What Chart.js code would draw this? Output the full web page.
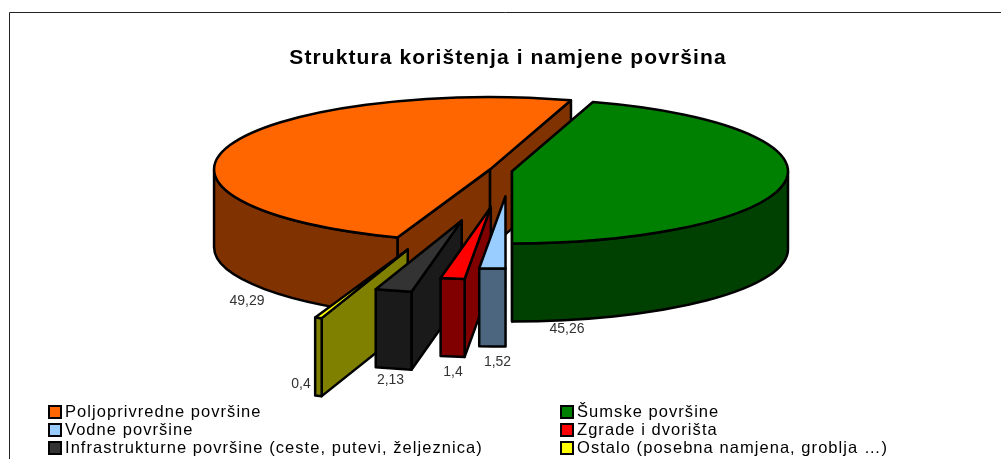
<!DOCTYPE html>
<html><head><meta charset="utf-8">
<script src="https://cdn.jsdelivr.net/npm/chart.js@4"></script>
<style>html,body{margin:0;padding:0;background:#fff}#w{position:relative;width:1001px;height:459px;overflow:hidden}canvas{display:block}</style>
</head><body><div id="w"><canvas id="c" width="1001" height="459"></canvas></div>
<script>
const chartTitle = 'Struktura korištenja i namjene površina';
const categories = ['Poljoprivredne površine','Šumske površine','Vodne površine','Zgrade i dvorišta','Infrastrukturne površine (ceste, putevi, željeznica)','Ostalo (posebna namjena, groblja …)'];
const values = [49.29,45.26,1.52,1.4,2.13,0.4];
const topColors = ['#FF6600','#008000','#99CCFF','#FF0000','#333333','#FFFF00'];
const sideColors = ['#803300','#004000','#4D6680','#800000','#1A1A1A','#808000'];
const explosion = [21,2,96,138,195,316];
const paintOrder = [0,1,5,4,3,2];
const labelPos = [[247,301],[567,329],[497.5,362],[453,372.5],[390.5,380],[301,384]];
const legendPos = [[48,412],[560,412],[48,430],[560,430],[48,448],[560,448]];
const squash = 0.262, depth = 78;

function fmt(v){return String(v).replace('.',',');}
const pseudo3d = {
  id:'pseudo3d',
  beforeDraw(chart){
    const c = chart.ctx; c.save(); c.fillStyle='#fff'; c.fillRect(0,0,chart.width,chart.height);
    c.strokeStyle='#222'; c.lineWidth=1; c.beginPath(); c.moveTo(9.5,459); c.lineTo(9.5,12.5); c.lineTo(1001,12.5); c.stroke();
    c.restore();
    c.save(); c.translate(-2,0); c.letterSpacing='1.1px';
  },
  beforeDatasetDraw(chart){
    const c = chart.ctx, meta = chart.getDatasetMeta(0);
    const P = Math.PI, T = 2*P;
    c.restore();
    c.save(); c.lineWidth=2.5; c.lineJoin='round'; c.strokeStyle='#000';
    for(const i of paintOrder){
      const a = meta.data[i];
      const off = a.options.offset, r = a.outerRadius, ry = r*squash;
      const mid = (a.startAngle+a.endAngle)/2;
      const cx = a.x + Math.cos(mid)*off, cy = a.y + Math.sin(mid)*off*squash;
      const pt = t => [cx+Math.cos(t)*r, cy+Math.sin(t)*ry];
      const wall = t => { const p = pt(t); c.beginPath(); c.moveTo(cx,cy); c.lineTo(p[0],p[1]); c.lineTo(p[0],p[1]+depth); c.lineTo(cx,cy+depth); c.closePath(); c.fillStyle=sideColors[i]; c.fill(); c.stroke(); };
      if(Math.cos(a.startAngle)<0) wall(a.startAngle);
      if(Math.cos(a.endAngle)>0) wall(a.endAngle);
      for(const k of [0,1]){
        const lo = Math.max(a.startAngle, k*T), hi = Math.min(a.endAngle, k*T+P);
        if(hi>lo){
          c.beginPath(); c.ellipse(cx,cy,r,ry,0,lo,hi); c.ellipse(cx,cy+depth,r,ry,0,hi,lo,true); c.closePath();
          c.fillStyle=sideColors[i]; c.fill(); c.stroke();
        }
      }
      c.beginPath(); c.moveTo(cx,cy); c.ellipse(cx,cy,r,ry,0,a.startAngle,a.endAngle); c.closePath();
      c.fillStyle=a.options.backgroundColor; c.fill(); c.stroke();
    }
    c.restore();
    return false;
  },
  afterDatasetsDraw(chart){
    const c = chart.ctx;
    c.save();
    c.textBaseline='middle';
    values.forEach((v,i)=>{c.fillStyle='#333'; c.font='14px "Liberation Sans"'; c.textAlign='center'; c.fillText(fmt(v),labelPos[i][0],labelPos[i][1]);});
    categories.forEach((t,i)=>{
      const [x,y]=legendPos[i];
      c.fillStyle=topColors[i]; c.strokeStyle='#000'; c.lineWidth=2;
      c.fillRect(x+1,y-6,12,12); c.strokeRect(x+1,y-6,12,12);
      c.fillStyle='#000'; c.font='16.5px "Liberation Sans"'; c.textAlign='left'; c.letterSpacing='1.05px';
      c.fillText(t,x+17,y);
      c.letterSpacing='0px';
    });
    c.restore();
  }
};
new Chart(document.getElementById('c'),{
  type:'pie',
  data:{labels:categories,datasets:[{data:values,backgroundColor:topColors,borderColor:'#000',borderWidth:2,offset:explosion}]},
  options:{
    responsive:false,animation:false,rotation:199.6,radius:276,cutout:'0%',
    layout:{padding:{left:19,right:0,top:0,bottom:188}},
    plugins:{
      legend:{display:false},tooltip:{enabled:false},
      title:{display:true,text:chartTitle,color:'#000',font:{family:'"Liberation Sans"',size:21,weight:'bold'},padding:{top:46,bottom:0}}
    }
  },
  plugins:[pseudo3d]
});
</script></body></html>
